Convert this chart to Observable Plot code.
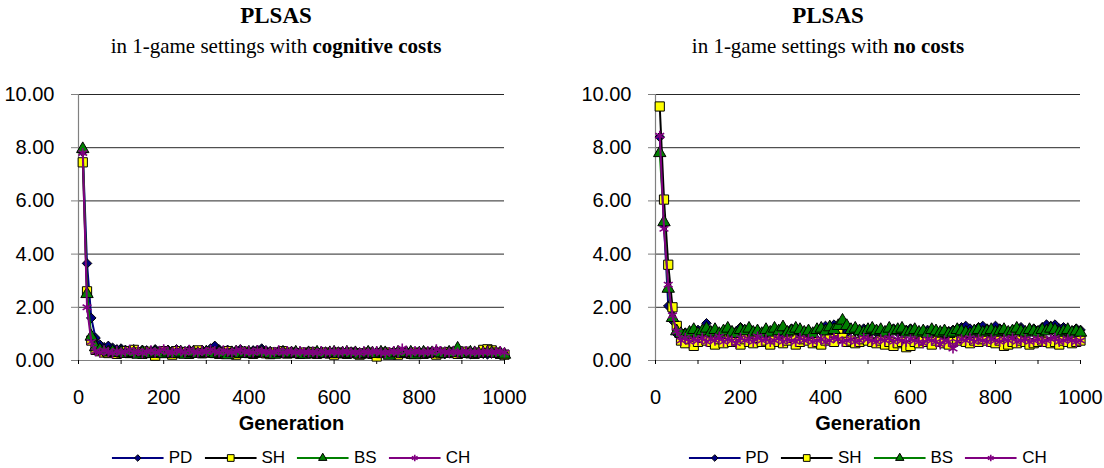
<!DOCTYPE html>
<html>
<head>
<meta charset="utf-8">
<script src="https://cdn.jsdelivr.net/npm/d3@7"></script>
<script src="https://cdn.jsdelivr.net/npm/@observablehq/plot@0.6"></script>
<style>
  html, body { margin: 0; padding: 0; background: #fff; }
  #root { position: relative; width: 1104px; height: 468px; overflow: hidden; }
  .panel { position: absolute; top: 0; width: 552px; height: 468px; }
  .title { position: absolute; left: 0; width: 552px; text-align: center; font-family: "Liberation Serif", "Times New Roman", serif; color: #000; white-space: nowrap; }
  .t1 { top: 3px; font-size: 23px; font-weight: bold; }
  .t2 { top: 34px; font-size: 21px; }
  .chart { position: absolute; left: 0; top: 70px; }
  .legend { position: absolute; top: 448px; display: flex; align-items: center; font-family: "Liberation Sans", Arial, sans-serif; font-size: 17px; color: #000; white-space: nowrap; transform: translateX(-50%); }
  .legend .item { display: flex; align-items: center; margin-right: 12px; }
  .legend .item:last-child { margin-right: 0; }
  .legend svg { margin-right: 5px; }
</style>
</head>
<body>
<div id="root"></div>
<script>
// Generations (x categories)
const generations = [10,20,30,40,50,60,70,80,90,100,110,120,130,140,150,160,170,180,190,200,
210,220,230,240,250,260,270,280,290,300,310,320,330,340,350,360,370,380,390,400,
410,420,430,440,450,460,470,480,490,500,510,520,530,540,550,560,570,580,590,600,
610,620,630,640,650,660,670,680,690,700,710,720,730,740,750,760,770,780,790,800,
810,820,830,840,850,860,870,880,890,900,910,920,930,940,950,960,970,980,990,1000];

const seriesNames = ["PD", "SH", "BS", "CH"];
const xTickLabels = [0, 200, 400, 600, 800, 1000];
const xTickMarks = [0,100,200,300,400,500,600,700,800,900,1000];
const yTicks = [0, 2, 4, 6, 8, 10];

// Left panel: cognitive costs
const costPD = [7.85,3.65,1.6,0.85,0.6,0.5,0.55,0.48,0.42,0.45,
0.4,0.38,0.42,0.35,0.4,0.38,0.36,0.42,0.35,0.38,
0.4,0.36,0.42,0.38,0.35,0.4,0.37,0.34,0.4,0.38,
0.45,0.55,0.42,0.36,0.4,0.35,0.38,0.42,0.36,0.34,
0.38,0.4,0.45,0.38,0.35,0.33,0.36,0.32,0.3,0.34,
0.3,0.28,0.32,0.35,0.3,0.28,0.33,0.3,0.27,0.3,
0.32,0.29,0.27,0.3,0.33,0.28,0.3,0.27,0.25,0.3,
0.28,0.26,0.3,0.27,0.25,0.28,0.3,0.26,0.24,0.28,
0.3,0.26,0.25,0.28,0.26,0.24,0.27,0.3,0.26,0.25,
0.27,0.24,0.26,0.28,0.25,0.23,0.26,0.24,0.22,0.2];
const costSH = [7.45,2.6,0.75,0.4,0.35,0.3,0.28,0.32,0.25,0.3,
0.35,0.28,0.4,0.3,0.25,0.33,0.28,0.18,0.3,0.35,
0.3,0.22,0.35,0.28,0.32,0.25,0.3,0.38,0.27,0.3,
0.33,0.28,0.25,0.3,0.35,0.27,0.22,0.3,0.33,0.28,
0.25,0.3,0.32,0.27,0.24,0.3,0.28,0.35,0.26,0.3,
0.28,0.25,0.3,0.27,0.32,0.25,0.28,0.3,0.26,0.22,
0.3,0.27,0.25,0.3,0.28,0.22,0.27,0.3,0.25,0.15,
0.28,0.3,0.25,0.27,0.22,0.3,0.28,0.25,0.3,0.27,
0.25,0.3,0.28,0.22,0.27,0.3,0.32,0.28,0.25,0.3,
0.33,0.27,0.25,0.3,0.4,0.42,0.38,0.3,0.25,0.22];
const costBS = [7.95,2.5,0.9,0.5,0.4,0.35,0.3,0.33,0.28,0.3,
0.25,0.3,0.28,0.22,0.3,0.27,0.25,0.3,0.28,0.24,
0.3,0.27,0.25,0.3,0.22,0.28,0.3,0.25,0.27,0.3,
0.28,0.25,0.3,0.27,0.2,0.28,0.3,0.25,0.27,0.3,
0.25,0.28,0.3,0.27,0.25,0.22,0.28,0.3,0.25,0.27,
0.3,0.25,0.22,0.28,0.25,0.3,0.27,0.25,0.28,0.3,
0.25,0.27,0.3,0.25,0.28,0.22,0.25,0.3,0.27,0.25,
0.3,0.28,0.18,0.27,0.3,0.25,0.28,0.3,0.2,0.27,
0.3,0.25,0.28,0.3,0.27,0.25,0.3,0.28,0.45,0.27,
0.25,0.3,0.28,0.25,0.27,0.3,0.28,0.25,0.27,0.22];
const costCH = [7.8,2.0,0.7,0.35,0.3,0.38,0.32,0.28,0.35,0.3,
0.33,0.4,0.3,0.35,0.28,0.33,0.38,0.3,0.35,0.42,
0.32,0.3,0.38,0.35,0.3,0.4,0.33,0.3,0.36,0.32,
0.4,0.35,0.3,0.38,0.33,0.3,0.36,0.4,0.32,0.35,
0.3,0.38,0.33,0.35,0.3,0.32,0.38,0.3,0.35,0.33,
0.3,0.35,0.32,0.3,0.33,0.28,0.35,0.3,0.32,0.34,
0.3,0.33,0.35,0.3,0.32,0.28,0.34,0.3,0.33,0.35,
0.3,0.28,0.32,0.35,0.3,0.45,0.33,0.3,0.35,0.32,
0.3,0.34,0.3,0.42,0.35,0.32,0.3,0.34,0.3,0.32,
0.35,0.3,0.33,0.3,0.32,0.34,0.3,0.32,0.35,0.3];

// Right panel: no costs
const freePD = [8.4,5.1,2.05,1.5,1.0,0.95,1.05,1.0,1.1,1.15,
1.0,1.4,1.1,1.05,1.0,1.1,0.95,1.05,1.1,1.25,
1.0,1.2,1.05,1.1,1.0,1.15,1.05,1.1,1.0,1.15,
1.05,1.2,1.1,1.0,1.05,1.1,1.0,1.15,1.1,1.3,
1.05,1.35,1.1,1.0,1.05,1.15,1.1,1.05,1.2,1.0,
1.1,1.05,1.15,1.0,1.1,1.2,1.05,1.1,1.15,1.2,
1.1,1.05,1.0,1.15,1.05,1.1,1.0,1.05,1.1,1.15,
1.2,1.25,1.3,1.2,1.1,1.25,1.3,1.2,1.15,1.3,
1.2,1.1,1.05,1.15,1.2,1.25,1.1,1.15,1.2,1.1,
1.25,1.35,1.3,1.35,1.2,1.25,1.15,1.1,1.2,1.15];
const freeSH = [9.55,6.05,3.6,2.0,1.3,0.75,0.65,0.8,0.55,0.7,
0.85,0.75,0.7,0.6,0.8,0.65,1.0,0.7,0.75,0.6,
0.8,0.7,0.65,0.85,0.7,0.75,0.6,0.8,0.7,0.65,
0.75,0.85,0.6,0.7,0.8,0.75,0.65,0.7,0.6,0.75,
0.8,0.7,1.1,0.85,0.7,0.75,0.65,0.7,0.8,0.75,
0.7,0.65,0.75,0.6,0.7,0.55,0.65,0.7,0.5,0.55,
0.7,0.65,0.75,0.7,0.6,0.75,0.7,0.65,0.6,0.7,
0.75,0.85,0.7,0.65,0.75,0.7,0.8,0.75,0.7,0.65,
0.75,0.55,0.6,0.7,0.65,0.75,0.7,0.6,0.65,0.7,
0.75,0.7,0.65,0.7,0.6,0.75,0.7,0.65,0.7,0.75];
const freeBS = [7.8,5.2,2.7,1.6,1.1,1.0,0.95,1.05,1.15,1.0,
1.1,1.2,1.05,1.15,1.0,1.1,1.2,1.05,1.0,1.15,
1.1,1.2,1.05,1.1,1.0,1.15,1.05,1.2,1.1,1.25,
1.05,1.1,1.2,1.15,1.05,1.1,1.0,1.15,1.2,1.1,
1.25,1.15,1.3,1.5,1.3,1.15,1.2,1.1,1.05,1.15,
1.2,1.1,1.15,1.05,1.2,1.1,1.15,1.2,1.05,1.1,
1.15,1.05,1.1,1.0,1.15,1.1,1.05,1.1,1.0,1.05,
1.15,1.1,1.05,1.0,1.1,1.15,1.05,1.1,1.15,1.05,
1.1,1.15,1.05,1.1,1.2,1.1,1.05,1.15,1.1,1.05,
1.15,1.1,1.2,1.15,1.05,1.1,1.15,1.05,1.1,1.05];
const freeCH = [8.45,4.95,2.85,1.7,1.1,0.75,0.85,0.7,0.8,0.75,
0.85,0.7,0.8,0.75,0.9,0.7,0.8,0.75,0.65,0.85,
0.75,0.8,0.7,0.9,0.75,0.8,0.7,0.75,0.85,0.7,
0.8,0.75,0.7,0.85,0.75,0.8,0.7,0.75,0.8,0.7,
0.75,0.85,0.8,0.7,0.75,0.8,0.7,0.75,0.85,0.8,
0.75,0.7,0.8,0.75,0.85,0.7,0.8,0.75,0.7,0.8,
0.75,0.7,0.65,0.8,0.75,0.7,0.6,0.75,0.7,0.45,
0.7,0.8,0.75,0.85,0.7,0.8,0.75,0.7,0.8,0.75,
0.7,0.8,0.75,0.85,0.7,0.75,0.8,0.7,0.75,0.8,
0.7,0.75,0.8,0.85,0.7,0.75,0.8,0.75,0.7,0.75];

const styles = {
  PD: {line: "#000080", symbol: "diamond2", fill: "#000080", stroke: "#000", r: 4.3},
  SH: {line: "#000000", symbol: "square", fill: "#ffff00", stroke: "#000", r: 5.2},
  BS: {line: "#008000", symbol: "triangle", fill: "#008000", stroke: "#000", r: 4.6},
  CH: {line: "#800080", symbol: "asterisk", fill: "none", stroke: "#800080", r: 4.8}
};

function toRows(arrs) {
  return seriesNames.map((name, i) => generations.map((g, j) => ({gen: g, value: arrs[i][j], series: name})));
}

function makePanel(left, title, subRegular, subBold, arrs, marginLeft, marginRight) {
  const panel = document.createElement("div");
  panel.className = "panel";
  panel.style.left = left + "px";
  panel.innerHTML = `<div class="title t1">${title}</div><div class="title t2">${subRegular}<b>${subBold}</b></div>`;
  const rows = toRows(arrs);
  const marks = [
    Plot.gridY(yTicks.filter(d => d > 0), {stroke: "#000", strokeOpacity: 0.85, strokeWidth: 1}),
    Plot.ruleX([0], {y1: 0, y2: 10, stroke: "#808080", strokeWidth: 1.2}),
    Plot.ruleY([0], {stroke: "#808080", strokeWidth: 1.2}),
    Plot.axisY({ticks: yTicks, tickFormat: d => d.toFixed(2), tickSize: 7, tickPadding: 17, stroke: "#808080", label: null}),
    Plot.axisX({ticks: xTickMarks, tickFormat: () => "", tickSize: 4, stroke: "#000", label: null}),
    Plot.axisX({ticks: xTickLabels, tickFormat: d => String(d), tickSize: 0, tickPadding: 29, label: null}),
    Plot.text(["Generation"], {frameAnchor: "bottom", dy: 69, fontWeight: "bold", fontSize: 20})
  ];
  rows.forEach((data, i) => {
    const s = styles[seriesNames[i]];
    marks.push(Plot.line(data, {x: "gen", y: "value", stroke: s.line, strokeWidth: 2}));
    marks.push(Plot.dot(data, {x: "gen", y: "value", symbol: s.symbol, r: s.r, fill: s.fill, stroke: s.stroke, strokeWidth: s.symbol === "asterisk" ? 1.6 : 1}));
  });
  const chart = Plot.plot({
    width: 552,
    height: 370,
    marginTop: 24,
    marginBottom: 80,
    marginLeft,
    marginRight,
    style: {fontFamily: "'Liberation Sans', Arial, sans-serif", fontSize: "20px", color: "#000", background: "transparent", overflow: "visible"},
    x: {domain: [0, 1000]},
    y: {domain: [0, 10]},
    marks
  });
  chart.classList.add("chart");
  panel.appendChild(chart);

  // legend
  const legend = document.createElement("div");
  legend.className = "legend";
  const center = marginLeft + (552 - marginLeft - marginRight) / 2;
  legend.style.left = center + "px";
  const legendSize = {PD: 28, SH: 45, BS: 30, CH: 30};
  const symMap = {diamond2: d3.symbolDiamond2, square: d3.symbolSquare, triangle: d3.symbolTriangle, asterisk: d3.symbolAsterisk};
  seriesNames.forEach(name => {
    const s = styles[name];
    const item = document.createElement("div");
    item.className = "item";
    const p = d3.symbol(symMap[s.symbol], legendSize[name])();
    item.innerHTML = `<svg width="52" height="14" viewBox="0 0 52 14"><line x1="0" x2="52" y1="7" y2="7" stroke="${s.line}" stroke-width="2"/><path d="${p}" transform="translate(26,7)" fill="${s.fill}" stroke="${s.stroke}" stroke-width="${s.symbol === 'asterisk' ? 1.6 : 1}"/></svg><span>${name}</span>`;
    legend.appendChild(item);
  });
  panel.appendChild(legend);
  document.getElementById("root").appendChild(panel);
}

makePanel(0, "PLSAS", "in 1-game settings with ", "cognitive costs", [costPD, costSH, costBS, costCH], 78, 48);
makePanel(552, "PLSAS", "in 1-game settings with ", "no costs", [freePD, freeSH, freeBS, freeCH], 103, 24);
</script>
</body>
</html>
